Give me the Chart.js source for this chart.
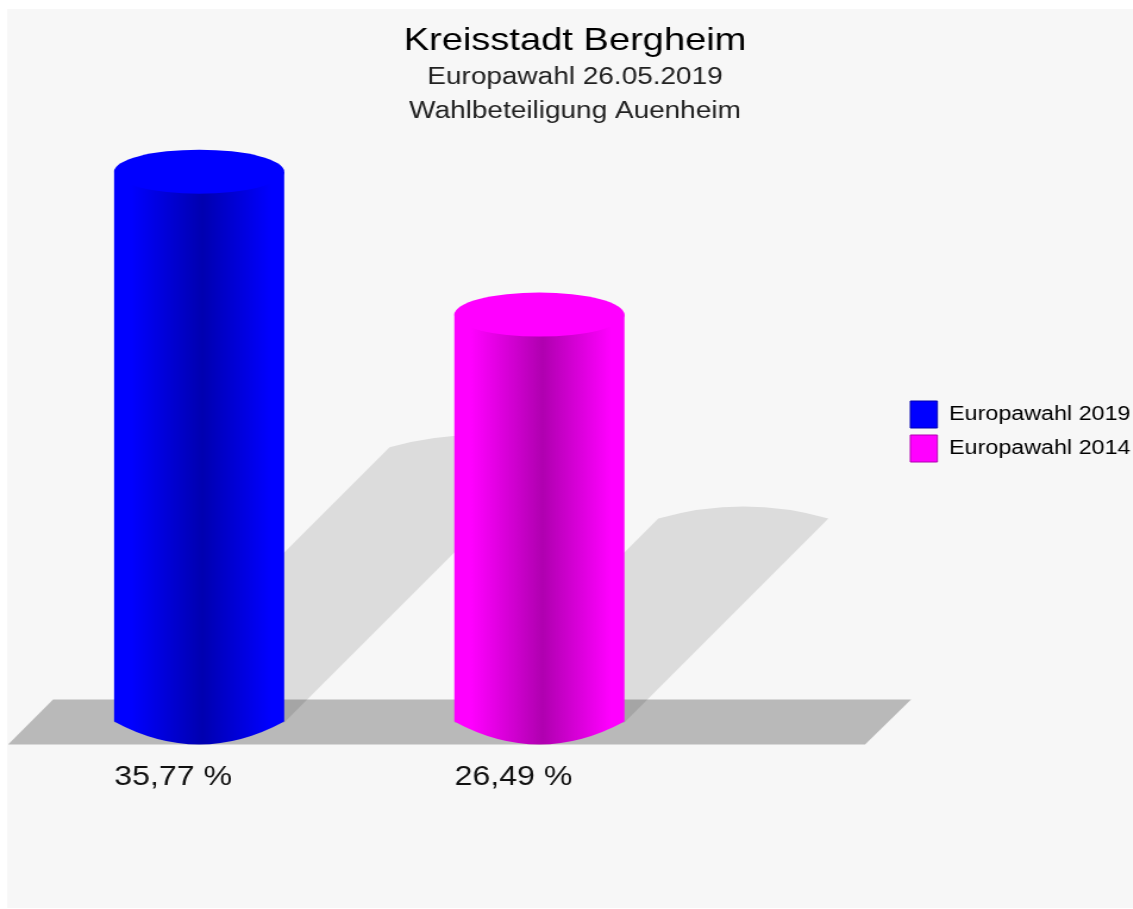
<!DOCTYPE html>
<html lang="de">
<head>
<meta charset="utf-8">
<title>Kreisstadt Bergheim</title>
<script src="https://cdn.jsdelivr.net/npm/chart.js@4/dist/chart.umd.min.js"></script>
<style>
  html, body { margin: 0; background: #fff; overflow: hidden; }
  /* the reference picture is stretched sideways, text and all */
  canvas { display: block; transform: scaleX(1.19); transform-origin: 0 0; }
</style>
</head>
<body>
<canvas id="chart" width="952" height="909"></canvas>
<script>
// Data
const tickLabels = ['35,77 %', '26,49 %'];
const turnoutValues = [35.77, 26.49];
const seriesNames = ['Europawahl 2019', 'Europawahl 2014'];
const barColors = ['#0000ff', '#ff00ff'];
const barDarkColors = ['#0000b0', '#b000b0'];
const titleText = 'Kreisstadt Bergheim';
const subtitleLines = ['Europawahl 26.05.2019', 'Wahlbeteiligung Auenheim'];

const FONT = '"Liberation Sans", Arial, sans-serif';
const STRETCH = 1.19;
const ELLIPSE_RY = 22;

// Grey page panel, floor and slanted shadows go under the cylinders
const cylinderPlugin = {
  id: 'cylinders',
  afterLayout(chart) {
    // the title block sits a bit left of the padded box centre
    chart.boxes.filter(b => b.position === 'top').forEach(b => { b.left -= 5; b.right -= 5; });
    const legend = chart.legend;
    legend.left += 8; legend.right += 8;
    legend.top += 19; legend.bottom += 19;
  },
  beforeDraw(chart) {
    const ctx = chart.ctx;
    ctx.save();
    ctx.fillStyle = '#f7f7f7';
    ctx.fillRect(6, 9, chart.width - 6, chart.height - 10);
    ctx.restore();
  },
  beforeDatasetDraw(chart, args) {
    const ctx = chart.ctx;
    const bars = args.meta.data;
    const baseY = chart.scales.y.getPixelForValue(0);
    const left = chart.chartArea.left;

    // floor
    ctx.save();
    ctx.fillStyle = '#b9b9b9';
    ctx.beginPath();
    ctx.moveTo(left - 17.6, baseY + 22);
    ctx.lineTo(left + 20.2, baseY - 23);
    ctx.lineTo(left + 741.2, baseY - 23);
    ctx.lineTo(left + 702.5, baseY + 22);
    ctx.closePath();
    ctx.fill();

    // shadows, sheared up and right by half the bar height
    ctx.fillStyle = 'rgba(0,0,0,0.105)';
    bars.forEach(bar => {
      const l = bar.x - bar.width / 2, r = bar.x + bar.width / 2;
      const off = (bar.base - bar.y) / 2;
      const offX = off / STRETCH;
      ctx.beginPath();
      ctx.moveTo(l, bar.base);
      ctx.lineTo(l + offX, bar.base - off);
      ctx.quadraticCurveTo(bar.x + offX, bar.base - off - 24, r + offX, bar.base - off);
      ctx.lineTo(r, bar.base);
      ctx.closePath();
      ctx.fill();
    });

    // cylinders
    bars.forEach((bar, i) => {
      const l = bar.x - bar.width / 2, r = bar.x + bar.width / 2;
      const grad = ctx.createLinearGradient(l, 0, r, 0);
      grad.addColorStop(0, barColors[i]);
      grad.addColorStop(0.1, barColors[i]);
      grad.addColorStop(0.52, barDarkColors[i]);
      grad.addColorStop(0.92, barColors[i]);
      grad.addColorStop(1, barColors[i]);
      ctx.fillStyle = grad;
      ctx.beginPath();
      ctx.moveTo(l, bar.y);
      ctx.lineTo(r, bar.y);
      ctx.lineTo(r, bar.base - 1);
      ctx.quadraticCurveTo(bar.x, bar.base + 45, l, bar.base - 1);
      ctx.closePath();
      ctx.fill();

      ctx.fillStyle = barColors[i];
      ctx.beginPath();
      ctx.ellipse(bar.x, bar.y, bar.width / 2, ELLIPSE_RY, 0, 0, Math.PI * 2);
      ctx.fill();
    });
    ctx.restore();
    return false; // skip the flat bars
  }
};

new Chart(document.getElementById('chart'), {
  type: 'bar',
  plugins: [cylinderPlugin],
  data: {
    labels: tickLabels,
    datasets: [{
      label: 'Wahlbeteiligung',
      data: turnoutValues,
      backgroundColor: barColors,
      barPercentage: 1,
      categoryPercentage: 0.5
    }]
  },
  options: {
    responsive: false,
    animation: false,
    layout: { padding: { left: 24.4, right: 0, top: 0, bottom: 84 } },
    scales: {
      x: {
        grid: { display: false },
        border: { display: false },
        ticks: {
          padding: 31,
          labelOffset: -21.8,
          maxRotation: 0,
          autoSkip: false,
          color: '#111',
          font: { family: FONT, size: 27 }
        }
      },
      y: {
        position: 'right',
        min: 0,
        max: 38,
        grid: { display: false },
        border: { display: false },
        ticks: { display: false },
        afterFit(scale) { scale.width = 153.8; } // keeps the bars left of the legend
      }
    },
    plugins: {
      tooltip: { enabled: false },
      title: {
        display: true,
        text: titleText,
        color: '#000',
        font: { family: FONT, size: 32, weight: 'normal', lineHeight: 1.2 },
        padding: { top: 22, bottom: 0 }
      },
      subtitle: {
        display: true,
        text: subtitleLines,
        color: '#222',
        font: { family: FONT, size: 23.5, weight: 'normal', lineHeight: 1.45 },
        padding: { top: 0, bottom: 8.8 }
      },
      legend: {
        position: 'right',
        labels: {
          boxWidth: 22.7,
          boxHeight: 27,
          padding: 7,
          color: '#333',
          font: { family: FONT, size: 19.6 },
          generateLabels: () => seriesNames.map((name, i) => ({
            text: name,
            fillStyle: barColors[i],
            strokeStyle: barDarkColors[i],
            lineWidth: 1,
            hidden: false,
            index: i
          }))
        }
      }
    }
  }
});
</script>
</body>
</html>
